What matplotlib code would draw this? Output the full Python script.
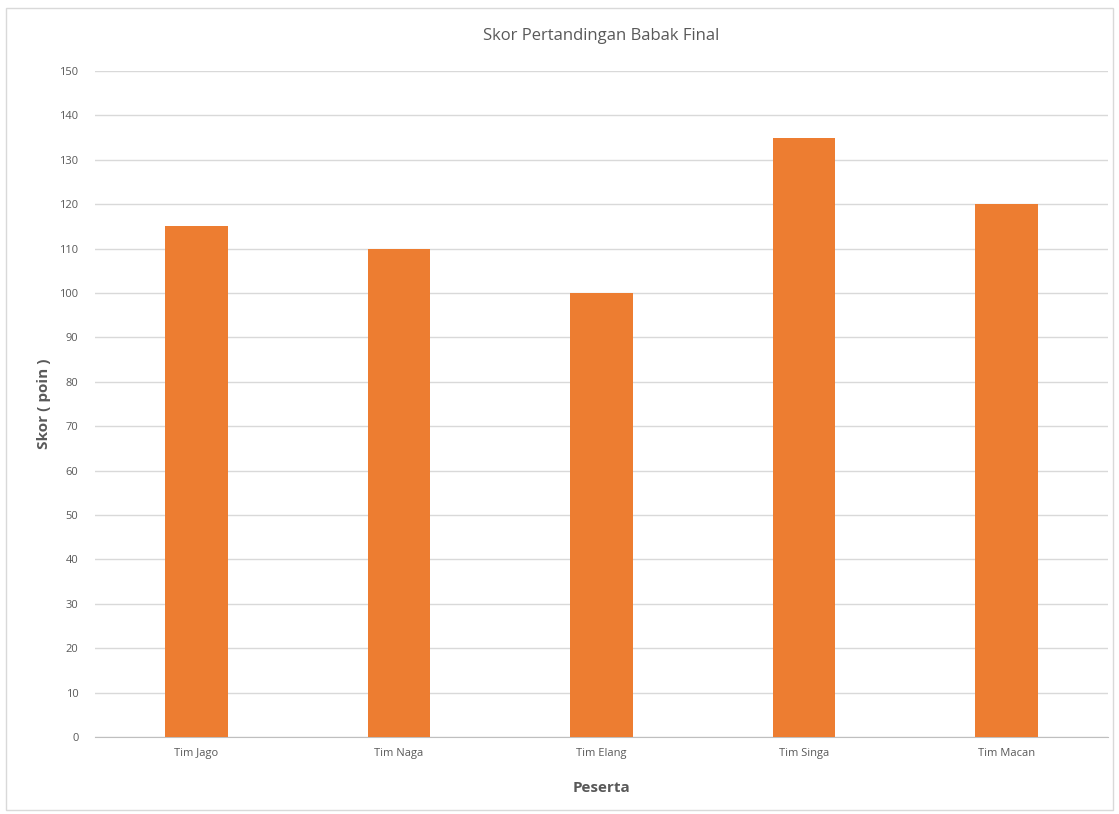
import matplotlib.pyplot as plt
from matplotlib.patches import Rectangle

# Data
peserta = ['Tim Jago', 'Tim Naga', 'Tim Elang', 'Tim Singa', 'Tim Macan']
skor = [115, 110, 100, 135, 120]
y_ticks = list(range(0, 151, 10))

plt.rcParams['font.family'] = ['Open Sans', 'DejaVu Sans']

fig = plt.figure(figsize=(11.19, 8.14), dpi=100)
ax = fig.add_axes([0.085, 0.0946, 0.905, 0.8182])

ax.bar(range(len(peserta)), skor, width=0.31, color='#ED7D31', zorder=3)

ax.set_xlim(-0.5, len(peserta) - 0.5)
ax.set_ylim(0, 150)
ax.set_yticks(y_ticks)
ax.set_xticks(range(len(peserta)))
ax.set_xticklabels(peserta)
ax.tick_params(axis='both', length=0, labelsize=8, colors='#595959')
ax.tick_params(axis='y', pad=12)
ax.tick_params(axis='x', pad=8)
ax.grid(axis='y', color='#D9D9D9', linewidth=1, zorder=0)

for side in ['top', 'right', 'left']:
    ax.spines[side].set_visible(False)
ax.spines['bottom'].set_color('#BFBFBF')

ax.set_title('Skor Pertandingan Babak Final', fontsize=12, color='#595959', pad=22)
ax.set_xlabel('Peserta', fontsize=11, fontweight='bold', color='#595959', labelpad=16)
ax.set_ylabel('Skor ( poin )', fontsize=11, fontweight='bold', color='#595959', labelpad=6)

# Light frame round the chart
fig.patches.append(Rectangle((0.005, 0.005), 0.99, 0.985, transform=fig.transFigure,
                             fill=False, edgecolor='#D9D9D9', linewidth=1))

fig.savefig('out.png', dpi=100)
